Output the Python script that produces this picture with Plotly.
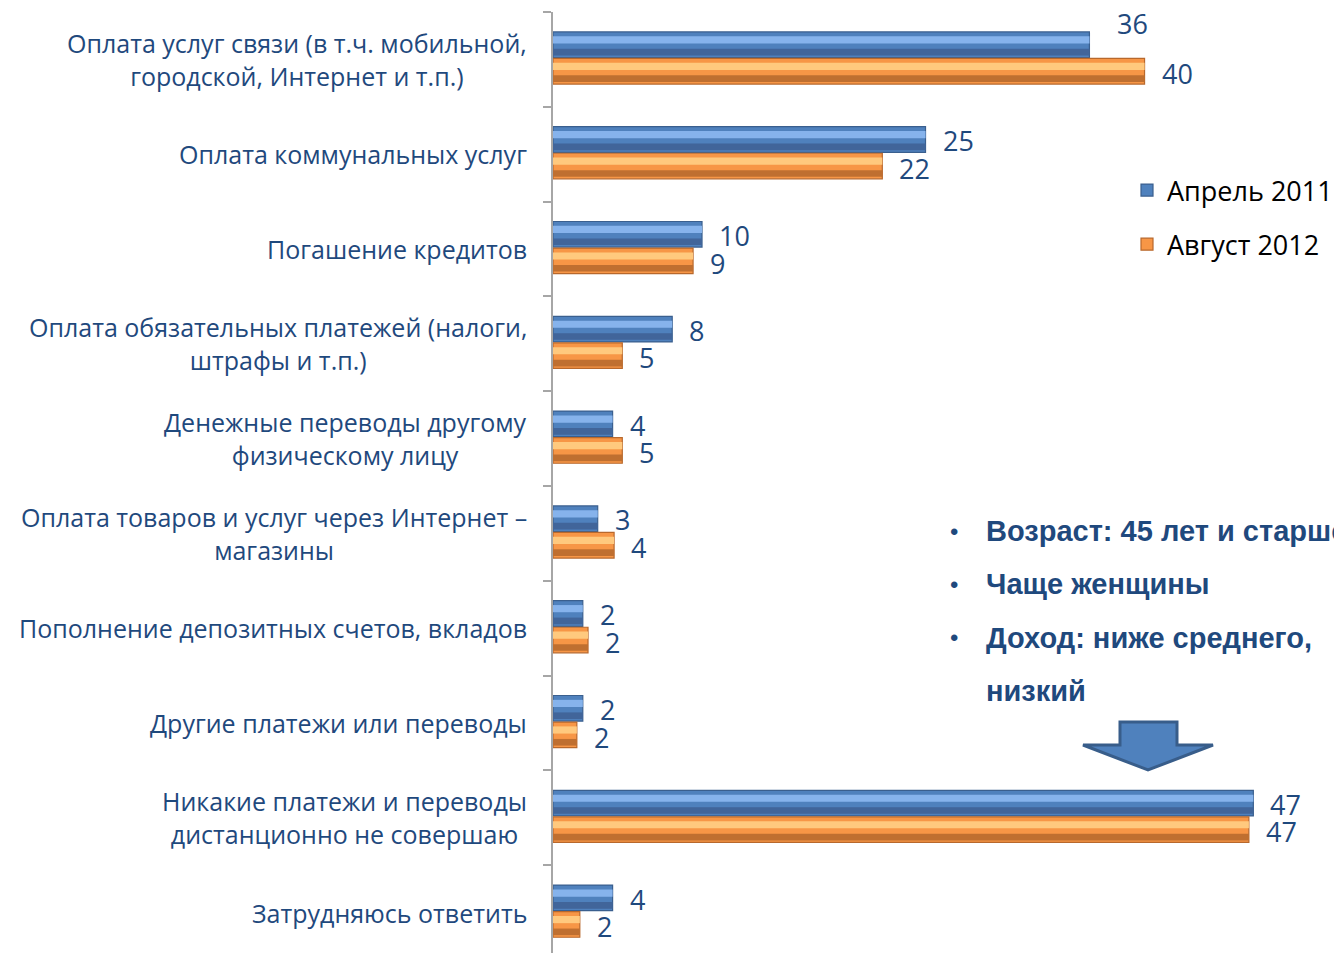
import plotly.graph_objects as go

# ---- data ----
categories = [
    "Оплата услуг связи (в т.ч. мобильной,<br>городской, Интернет и т.п.)",
    "Оплата коммунальных услуг",
    "Погашение кредитов",
    "Оплата обязательных платежей (налоги,<br>штрафы и т.п.)",
    "Денежные переводы другому<br>физическому лицу",
    "Оплата товаров и услуг через Интернет –<br>магазины",
    "Пополнение депозитных счетов, вкладов",
    "Другие платежи или переводы",
    "Никакие платежи и переводы<br>дистанционно не совершаю",
    "Затрудняюсь ответить",
]
cat_ids = [f"c{i}" for i in range(len(categories))]
# values; labels show them rounded
april_2011 = [36.0, 25.0, 10.0, 8.0, 4.0, 3.0, 2.0, 2.0, 47.0, 4.0]
august_2012 = [39.7, 22.1, 9.4, 4.65, 4.65, 4.1, 2.35, 1.6, 46.7, 1.8]
series_names = ["Апрель 2011", "Август 2012"]
notes = ["Возраст: 45 лет и старше", "Чаще женщины", "Доход: ниже среднего,", "низкий"]

# ---- layout geometry (page pixels; body has an 8px margin) ----
BODY = 8
W, H = 1334, 952
ML, MR, MT, MB = 545, 0, 4, 0
PW, PH = W - ML - MR, H - MT - MB


def px(xpage):
    return (xpage - BODY - ML) / PW


def py(ypage):
    return 1 - (ypage - BODY - MT) / PH


TXT = "#1F497D"
FONT = "Open Sans"

fig = go.Figure()

styles = [
    dict(base="#4F81BD", line="#3A5F8E", light="#86B3EC", dark="#41659A", offset=-0.29),
    dict(base="#F79646", line="#B8682C", light="#FFC97E", dark="#BF6F30", offset=-0.01),
]
BW = 0.27
for name, vals, st in zip(series_names, [april_2011, august_2012], styles):
    fig.add_trace(go.Bar(
        y=cat_ids, x=vals, orientation="h", name=name,
        offset=st["offset"], width=BW, legendgroup=name,
        marker=dict(color=st["base"], line=dict(color=st["line"], width=1.2)),
        hovertemplate="%{x:.0f}<extra>" + name + "</extra>",
    ))
    fig.add_trace(go.Bar(
        y=cat_ids, x=vals, orientation="h", showlegend=False,
        offset=st["offset"] + BW * 0.17, width=BW * 0.28,
        marker=dict(color=st["light"], line=dict(width=0)), hoverinfo="skip",
    ))
    fig.add_trace(go.Bar(
        y=cat_ids, x=vals, orientation="h", showlegend=False,
        offset=st["offset"] + BW * 0.66, width=BW * 0.26,
        marker=dict(color=st["dark"], line=dict(width=0)), hoverinfo="skip",
    ))

annotations = []
# category labels
for cid, label in zip(cat_ids, categories):
    annotations.append(dict(
        x=0, xref="paper", y=cid, yref="y", xanchor="right", xshift=-24,
        text=label, showarrow=False, align="center",
        font=dict(family=FONT, size=25, color=TXT),
    ))

# value labels
for si, vals in enumerate([april_2011, august_2012]):
    for i, (cid, v) in enumerate(zip(cat_ids, vals)):
        ys = 13.5 if si == 0 else -14
        xs = 15
        if si == 0 and i == 0:
            ys, xs = 36, 26
        annotations.append(dict(
            x=v, xref="x", y=cid, yref="y", xanchor="left", yanchor="middle",
            xshift=xs, yshift=ys, text=f"{v:.0f}", showarrow=False,
            font=dict(family=FONT, size=27, color=TXT),
        ))

# bullet notes
for k, note in enumerate(notes):
    ypage = 531 + k * 53.3
    if k < 3:
        annotations.append(dict(
            x=px(954), xref="paper", y=py(ypage), yref="paper", xanchor="center", yanchor="middle",
            text="•", showarrow=False, font=dict(family="Liberation Sans", size=24, color=TXT),
        ))
    annotations.append(dict(
        x=px(984), xref="paper", y=py(ypage), yref="paper", xanchor="left", yanchor="middle",
        text=f"<b>{note}</b>", showarrow=False,
        font=dict(family="Liberation Sans", size=29, color=TXT),
    ))

# arrow shape
pts = [(1120, 722), (1177, 722), (1177, 745), (1213, 745), (1148, 770), (1083, 745), (1120, 745)]
path = "M " + " L ".join(f"{px(x):.5f},{py(y):.5f}" for x, y in pts) + " Z"
shapes = [dict(type="path", xref="paper", yref="paper", path=path,
               fillcolor="#4F81BD", line=dict(color="#385D8A", width=3))]

fig.update_layout(
    width=W, height=H,
    margin=dict(l=ML, r=MR, t=MT, b=MB, pad=0),
    paper_bgcolor="white", plot_bgcolor="white",
    barmode="overlay",
    showlegend=True,
    legend=dict(
        x=px(1127), y=py(166), xanchor="left", yanchor="top",
        font=dict(family=FONT, size=27, color="black"),
        traceorder="grouped", tracegroupgap=16, bgcolor="rgba(0,0,0,0)",
    ),
    xaxis=dict(range=[0, 52.95], visible=False, fixedrange=True),
    yaxis=dict(
        type="category", categoryorder="array", categoryarray=cat_ids,
        autorange="reversed", showticklabels=False, showgrid=False, zeroline=False,
        showline=True, linecolor="#A6A6A6", linewidth=2,
        ticks="outside", ticklen=8, tickwidth=2, tickcolor="#A6A6A6", tickson="boundaries",
    ),
    annotations=annotations,
    shapes=shapes,
)

fig.write_html("out.html")
